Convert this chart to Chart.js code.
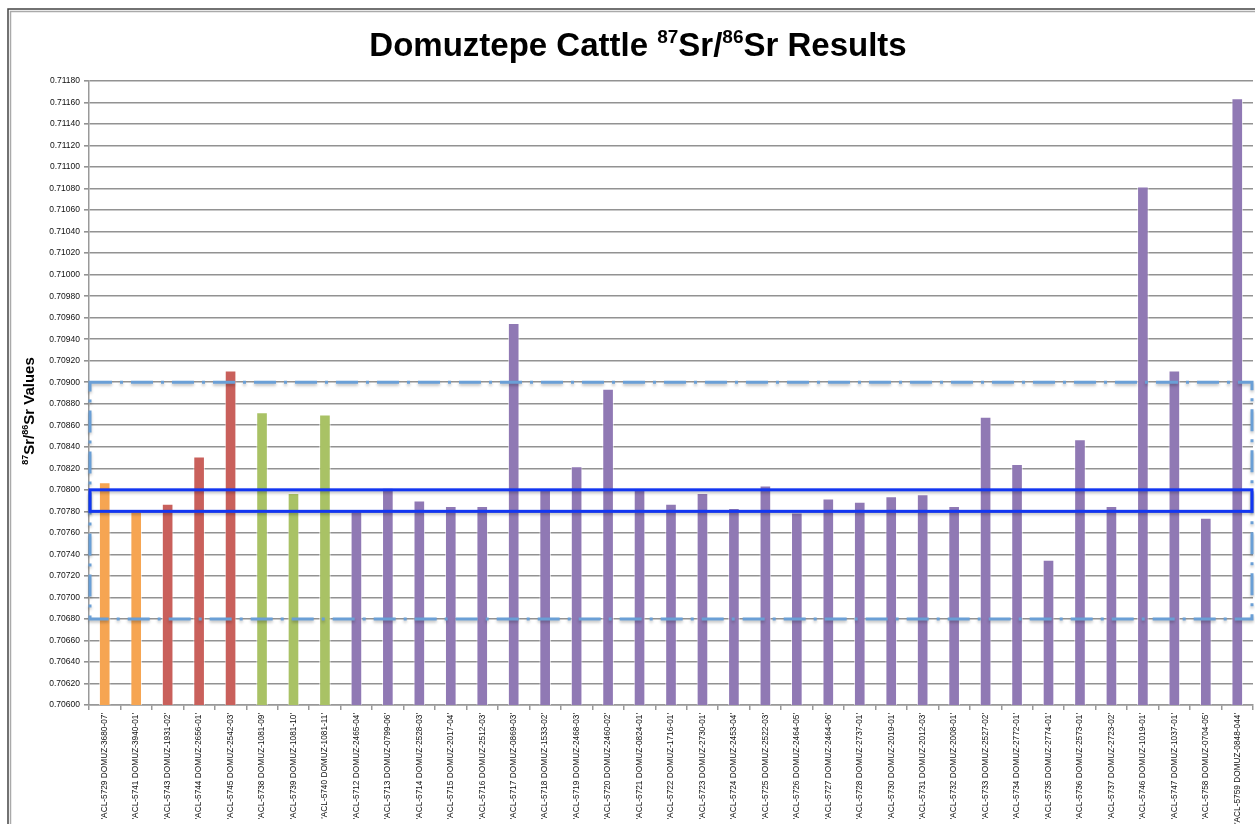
<!DOCTYPE html>
<html>
<head>
<meta charset="utf-8">
<script src="https://cdn.jsdelivr.net/npm/chart.js@4.4.0/dist/chart.umd.min.js"></script>
<style>
  html, body { margin: 0; padding: 0; background: #fff; overflow: hidden; }
  #wrap { width: 1255px; height: 824px; position: relative; }
</style>
</head>
<body>
<div id="wrap"><canvas id="myChart"></canvas></div>
<script>
// sample labels, in chart order
var labels = [
    "'ACL-5729 DOMUZ-3680-07'", "'ACL-5741 DOMUZ-3940-01'", "'ACL-5743 DOMUZ-1931-02'",
    "'ACL-5744 DOMUZ-2656-01'", "'ACL-5745 DOMUZ-2542-03'", "'ACL-5738 DOMUZ-1081-09'",
    "'ACL-5739 DOMUZ-1081-10'", "'ACL-5740 DOMUZ-1081-11'", "'ACL-5712 DOMUZ-2465-04'",
    "'ACL-5713 DOMUZ-0799-06'", "'ACL-5714 DOMUZ-2528-03'", "'ACL-5715 DOMUZ-2017-04'",
    "'ACL-5716 DOMUZ-2512-03'", "'ACL-5717 DOMUZ-0869-03'", "'ACL-5718 DOMUZ-1533-02'",
    "'ACL-5719 DOMUZ-2468-03'", "'ACL-5720 DOMUZ-2460-02'", "'ACL-5721 DOMUZ-0824-01'",
    "'ACL-5722 DOMUZ-1716-01'", "'ACL-5723 DOMUZ-2730-01'", "'ACL-5724 DOMUZ-2453-04'",
    "'ACL-5725 DOMUZ-2522-03'", "'ACL-5726 DOMUZ-2464-05'", "'ACL-5727 DOMUZ-2464-06'",
    "'ACL-5728 DOMUZ-2737-01'", "'ACL-5730 DOMUZ-2019-01'", "'ACL-5731 DOMUZ-2012-03'",
    "'ACL-5732 DOMUZ-2008-01'", "'ACL-5733 DOMUZ-2527-02'", "'ACL-5734 DOMUZ-2772-01'",
    "'ACL-5735 DOMUZ-2774-01'", "'ACL-5736 DOMUZ-2573-01'", "'ACL-5737 DOMUZ-2723-02'",
    "'ACL-5746 DOMUZ-1019-01'", "'ACL-5747 DOMUZ-1037-01'", "'ACL-5758 DOMUZ-0704-05'",
    "'ACL-5759 DOMUZ-0848-044'"
];

// 87Sr/86Sr values
var srValues = [
    0.70807, 0.70780, 0.70787, 0.70831, 0.70911, 0.70872, 0.70797, 0.70870,
    0.70781, 0.70802, 0.70790, 0.70785, 0.70785, 0.70955, 0.70801, 0.70822,
    0.70894, 0.70801, 0.70787, 0.70797, 0.70783, 0.70804, 0.70779, 0.70792,
    0.70789, 0.70794, 0.70796, 0.70785, 0.70868, 0.70824, 0.70735, 0.70847,
    0.70785, 0.71082, 0.70911, 0.70774, 0.71164
];

// colour group of each bar
var groups = [
    'orange', 'orange', 'red', 'red', 'red', 'green', 'green', 'green',
    'purple', 'purple', 'purple', 'purple', 'purple', 'purple', 'purple', 'purple',
    'purple', 'purple', 'purple', 'purple', 'purple', 'purple', 'purple', 'purple',
    'purple', 'purple', 'purple', 'purple', 'purple', 'purple', 'purple', 'purple',
    'purple', 'purple', 'purple', 'purple', 'purple'
];
var groupColors = { orange: '#F6A552', red: '#C9605B', green: '#A9C265', purple: '#9079B4' };

// y axis range and step
var yMin = 0.706, yMax = 0.7118, yStep = 0.0002;

// reference ranges drawn as boxes
var localRange = [0.7068, 0.7090];   // dash-dot box
var meanRange = [0.7078, 0.7080];    // solid box

var FONT = '"Liberation Sans", Arial, sans-serif';

// draws text pieces centred on x, some of them as superscripts
function drawRich(ctx, parts, x, y, size, sup) {
    var total = 0;
    parts.forEach(function (p) {
        ctx.font = 'bold ' + (p.s ? sup : size) + 'px ' + FONT;
        p.w = ctx.measureText(p.t).width;
        total += p.w;
    });
    var cx = x - total / 2;
    parts.forEach(function (p) {
        ctx.font = 'bold ' + (p.s ? sup : size) + 'px ' + FONT;
        ctx.fillText(p.t, cx, p.s ? y - size * 0.4 : y);
        cx += p.w;
    });
}

var decor = {
    id: 'decor',
    beforeDraw: function (chart) {
        var ctx = chart.ctx;
        ctx.save();
        // page frame
        ctx.strokeStyle = '#444';
        ctx.lineWidth = 1.5;
        ctx.beginPath();
        ctx.moveTo(8, 824); ctx.lineTo(8, 9); ctx.lineTo(1255, 9);
        ctx.stroke();
        ctx.strokeStyle = '#aaa';
        ctx.beginPath();
        ctx.moveTo(10.5, 824); ctx.lineTo(10.5, 11.5); ctx.lineTo(1255, 11.5);
        ctx.stroke();

        // title
        ctx.fillStyle = '#000';
        ctx.textBaseline = 'alphabetic';
        ctx.textAlign = 'left';
        drawRich(ctx, [
            { t: 'Domuztepe Cattle ' }, { t: '87', s: true }, { t: 'Sr/' },
            { t: '86', s: true }, { t: 'Sr Results' }
        ], 638, 56, 33, 19);

        // y axis title
        ctx.translate(34, 411);
        ctx.rotate(-Math.PI / 2);
        drawRich(ctx, [
            { t: '87', s: true }, { t: 'Sr/' }, { t: '86', s: true }, { t: 'Sr Values' }
        ], 0, 0, 15, 9);
        ctx.restore();
    },
    afterDatasetsDraw: function (chart) {
        var ctx = chart.ctx;
        var y = chart.scales.y;
        var area = chart.chartArea;
        var left = area.left + 1, right = area.right - 1;
        ctx.save();
        ctx.shadowColor = 'rgba(0,0,0,0.25)';
        ctx.shadowBlur = 3;
        ctx.shadowOffsetY = 2;

        ctx.strokeStyle = '#6A9FD6';
        ctx.lineWidth = 3;
        ctx.setLineDash([22, 8, 3, 8]);
        var t = y.getPixelForValue(localRange[1]), b = y.getPixelForValue(localRange[0]);
        ctx.strokeRect(left, t, right - left, b - t);

        ctx.setLineDash([]);
        ctx.strokeStyle = '#1236F2';
        t = y.getPixelForValue(meanRange[1]);
        b = y.getPixelForValue(meanRange[0]);
        ctx.strokeRect(left, t, right - left, b - t);
        ctx.restore();
    }
};

var ctx = document.getElementById('myChart').getContext('2d');

var chart = new Chart(ctx, {
    type: 'bar',
    data: {
        labels: labels,
        datasets: [{
            data: srValues,
            backgroundColor: groups.map(function (g) { return groupColors[g]; }),
            borderColor: 'rgba(255,255,255,0.6)',
            borderWidth: { top: 1, left: 1, right: 1, bottom: 0 },
            categoryPercentage: 1,
            barPercentage: 0.37
        }]
    },
    options: {
        responsive: true,
        maintainAspectRatio: false,
        animation: false,
        layout: { padding: { top: 81, right: 2, left: 0, bottom: 0 } },
        plugins: { legend: { display: false }, tooltip: { enabled: false } },
        scales: {
            x: {
                afterFit: function (s) { s.height = 119; },
                grid: { drawOnChartArea: false, drawTicks: true, tickLength: 5, color: '#999', lineWidth: 1.5 },
                border: { color: '#999', width: 1.5 },
                ticks: {
                    autoSkip: false, minRotation: 90, maxRotation: 90, padding: 3,
                    color: '#111', font: { family: FONT, size: 8.3 }
                }
            },
            y: {
                min: yMin,
                max: yMax,
                afterFit: function (s) { s.width = 89; },
                grid: { color: '#929292', lineWidth: 1.6, tickLength: 5 },
                border: { color: '#999', width: 1.5 },
                ticks: {
                    stepSize: yStep, padding: 4, color: '#111',
                    font: { family: FONT, size: 8.5 },
                    callback: function (v) { return v.toFixed(5); }
                }
            }
        }
    },
    plugins: [decor]
});
</script>
</body>
</html>
